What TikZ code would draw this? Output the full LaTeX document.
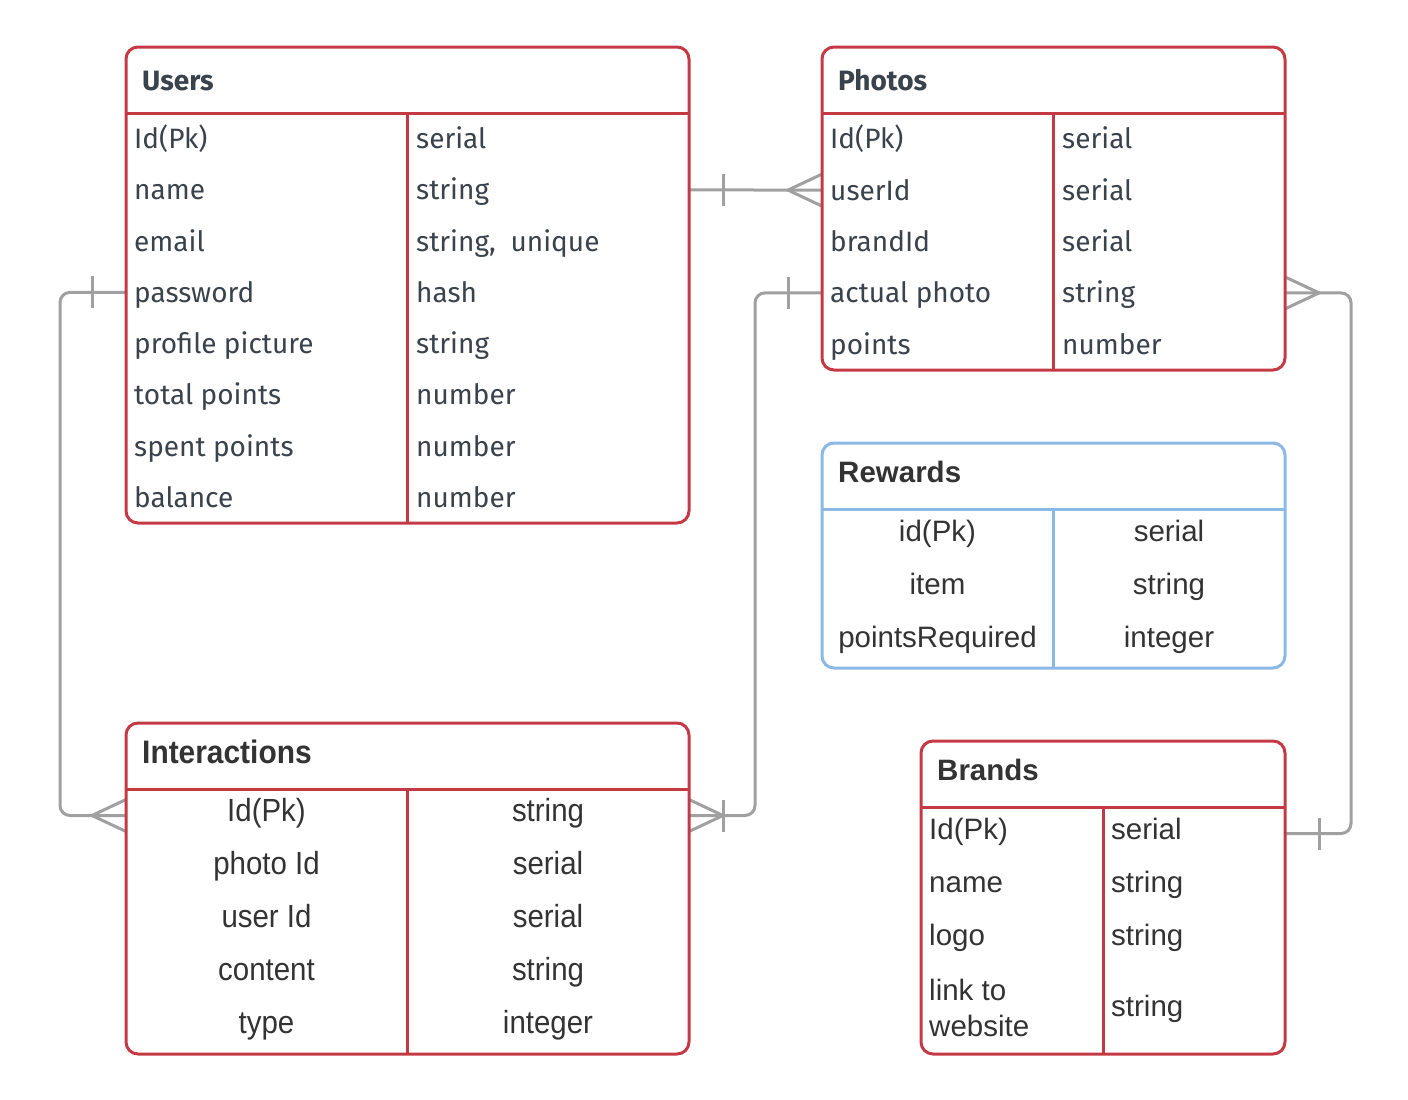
\documentclass[tikz,border=0pt]{standalone}
\usepackage{fontspec}
\usepackage{xcolor}
\usetikzlibrary{calc}
\newfontfamily\slimfont{Fira Sans}
\newfontfamily\plainfont{Liberation Sans}
\newfontfamily\narrowfont[FakeStretch=0.92]{Liberation Sans}
\definecolor{erred}{RGB}{196,58,68}
\definecolor{erblue}{RGB}{139,184,228}
\definecolor{ergray}{RGB}{160,160,160}
\definecolor{slate}{RGB}{58,66,76}
\definecolor{ink}{RGB}{51,51,51}
\pgfdeclarelayer{background}
\pgfsetlayers{background,main}
\begin{document}
\begin{tikzpicture}[x=1pt, y=-1pt,
    entity/.style={draw=#1, line width=3pt, rounded corners=12pt, anchor=north west,
                   inner sep=0pt, outer sep=0pt, fill=white},
    rel/.style={draw=ergray, line width=3pt, rounded corners=10pt},
    utitle/.style={anchor=base west, inner sep=0pt, text=slate, font=\slimfont\bfseries\fontsize{28}{34}\selectfont},
    ufield/.style={anchor=base west, inner sep=0pt, text=slate, font=\slimfont\fontsize{28}{34}\selectfont},
    atitle/.style={anchor=base west, inner sep=0pt, text=ink, font=\plainfont\bfseries\fontsize{29.5}{36}\selectfont},
    afield/.style={anchor=base west, inner sep=0pt, text=ink, align=left, font=\plainfont\fontsize{29.5}{36}\selectfont},
    cfield/.style={anchor=base, inner sep=0pt, text=ink, font=\plainfont\fontsize{29.5}{36}\selectfont},
    ntitle/.style={anchor=base west, inner sep=0pt, text=ink, font=\narrowfont\bfseries\fontsize{32.5}{38}\selectfont},
    nfield/.style={anchor=base, inner sep=0pt, text=ink, font=\narrowfont\fontsize{32}{38}\selectfont},
    crow/.pic={\draw[draw=ergray, line width=3pt] (0,-16) -- (34,0) -- (0,16);},
    one/.pic={\draw[draw=ergray, line width=3pt] (34,-16) -- (34,16);}]
  \useasboundingbox (0,0) rectangle (1408,1100);

  % tables
  \node[entity=erred, minimum width=563pt, minimum height=476pt] (users) at (126,47) {};
  \node[entity=erred, minimum width=463pt, minimum height=323pt] (photos) at (822,47) {};
  \node[entity=erblue, minimum width=463pt, minimum height=225pt] (rewards) at (822,443) {};
  \node[entity=erred, minimum width=563pt, minimum height=331pt] (inter) at (126,723) {};
  \node[entity=erred, minimum width=364pt, minimum height=313pt] (brands) at (921,741) {};

  \foreach \b/\c/\d in {users/erred/281, photos/erred/231, rewards/erblue/231, inter/erred/281, brands/erred/182} {
    \draw[draw=\c, line width=3pt] ($(\b.north west)+(0,66)$) -- ($(\b.north east)+(0,66)$);
    \draw[draw=\c, line width=3pt] ($(\b.north west)+(\d,66)$) -- ($(\b.south west)+(\d,0)$);
  }

  % titles
  \node[utitle] (usersname) at (142,90) {Users};
  \node[utitle] (photosname) at (838,90) {Photos};
  \node[atitle] (rewardsname) at (838,482) {Rewards};
  \node[ntitle] (intername) at (142,763) {Interactions};
  \node[atitle] (brandsname) at (937,780) {Brands};

  % fields
  \foreach \f/\t [count=\i] in {Id(Pk)/serial, name/string, email/{string,\ \ unique},
      password/hash, profile picture/string, total points/number,
      spent points/number, balance/number} {
    \coordinate (urow\i) at (126, 87.4+51.25*\i);
    \node[ufield] (u\i) at (134, 97.4+51.25*\i) {\f};
    \node[ufield] (ut\i) at (416, 97.4+51.25*\i) {\t};
  }
  \foreach \f/\t [count=\i] in {Id(Pk)/serial, userId/serial, brandId/serial,
      actual photo/string, points/number} {
    \coordinate (prow\i) at (822, 87.3+51.4*\i);
    \node[ufield] (p\i) at (830, 97.3+51.4*\i) {\f};
    \node[ufield] (pt\i) at (1062, 97.3+51.4*\i) {\t};
  }
  \foreach \f/\t [count=\i] in {id(Pk)/serial, item/string, pointsRequired/integer} {
    \node[cfield] (r\i) at (937.5, 488.5+53*\i) {\f};
    \node[cfield] (rt\i) at (1169, 488.5+53*\i) {\t};
  }
  \foreach \f/\t [count=\i] in {Id(Pk)/string, photo Id/serial, user Id/serial,
      content/string, type/integer} {
    \coordinate (irow\i) at (126, 762.5+53*\i);
    \node[nfield] (i\i) at (266.5, 768+53*\i) {\f};
    \node[nfield] (it\i) at (548, 768+53*\i) {\t};
  }
  \foreach \f/\t [count=\i] in {Id(Pk)/serial, name/string, logo/string} {
    \coordinate (brow\i) at (921, 780.5+53*\i);
    \node[afield] (b\i) at (929, 786.5+53*\i) {\f};
    \node[afield] (bt\i) at (1111, 786.5+53*\i) {\t};
  }
  \node[afield, anchor=west] (b4) at (929,1008) {link to\\website};
  \node[afield] (bt4) at (1111,1016) {string};

  % relations
  \begin{pgfonlayer}{background}
    \draw[rel] (users.east |- urow2) -- (photos.west |- prow2);
    \pic at (users.east |- urow2) {one};
    \pic[rotate=180] at (photos.west |- prow2) {crow};

    \draw[rel] (users.west |- urow4) -- ++(-66,0) |- (inter.west |- irow1);
    \pic[rotate=180] at (users.west |- urow4) {one};
    \pic[rotate=180] at (inter.west |- irow1) {crow};

    \draw[rel] (photos.west |- prow4) -- ++(-67,0) |- (inter.east |- irow1);
    \pic[rotate=180] at (photos.west |- prow4) {one};
    \pic at (inter.east |- irow1) {crow};
    \pic at (inter.east |- irow1) {one};

    \draw[rel] (photos.east |- prow4) -- ++(66,0) |- (brands.east |- brow1);
    \pic at (photos.east |- prow4) {crow};
    \pic at (brands.east |- brow1) {one};
  \end{pgfonlayer}
\end{tikzpicture}
\end{document}
